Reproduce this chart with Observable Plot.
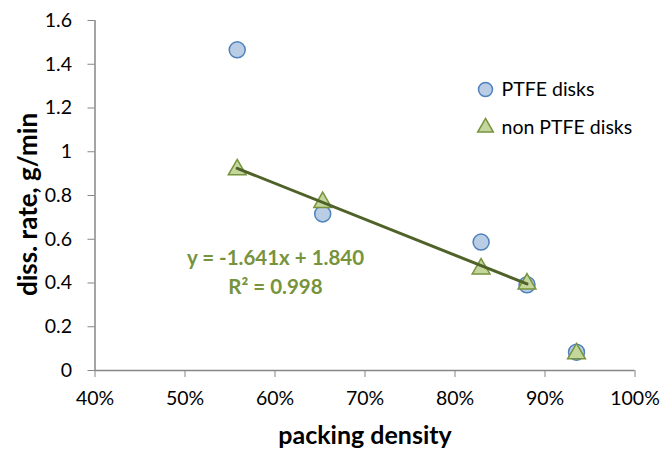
<!DOCTYPE html>
<html>
<head>
<meta charset="utf-8">
<script src="https://cdn.jsdelivr.net/npm/d3@7"></script>
<script src="https://cdn.jsdelivr.net/npm/@observablehq/plot@0.6"></script>
<style>
  html, body { margin: 0; padding: 0; background: #fff; }
  #chart svg { display: block; }
</style>
</head>
<body>
<div id="chart"></div>
<script>
// ---- data ----
const seriesNames = ["PTFE disks", "non PTFE disks"];
const ptfeX = [0.558, 0.653, 0.829, 0.880, 0.935];
const ptfeY = [1.466, 0.716, 0.587, 0.392, 0.084];
const nonPtfeX = [0.558, 0.653, 0.829, 0.880, 0.935];
const nonPtfeY = [0.918, 0.769, 0.465, 0.396, 0.077];
const trendCount = [4]; // trendline fitted over the first 4 non-PTFE points
const trendSlope = [-1.641];
const trendIntercept = [1.840];
const trendR2 = [0.998];
const yTicks = [0, 0.2, 0.4, 0.6, 0.8, 1.0, 1.2, 1.4, 1.6];
const xTicks = [0.4, 0.5, 0.6, 0.7, 0.8, 0.9, 1.0];
const xLabel = "packing density";
const yLabel = "diss. rate, g/min";

// ---- build tables ----
const ptfe = ptfeX.map((x, i) => ({x, y: ptfeY[i]}));
const nonPtfe = nonPtfeX.map((x, i) => ({x, y: nonPtfeY[i]}));
const fitPts = nonPtfe.slice(0, trendCount[0]);
const fx = d3.extent(fitPts, d => d.x);
const trend = fx.map(x => ({x, y: trendSlope[0] * x + trendIntercept[0]}));
const eqText = `y = ${trendSlope[0].toFixed(3)}x + ${trendIntercept[0].toFixed(3)}\nR² = ${trendR2[0].toFixed(3)}`;

const axisColor = "#868686";
const blueFill = "#B9CDE5", blueStroke = "#4F81BD";
const greenFill = "#C3D69B", greenStroke = "#77933C";
const trendColor = "#4F6228";

const chart = Plot.plot({
  width: 662,
  height: 450,
  marginTop: 20,
  marginLeft: 94.5,
  marginRight: 27.5,
  marginBottom: 80,
  style: {fontFamily: "Lato, 'Open Sans', sans-serif", fontSize: "19px", color: "#000", background: "#fff"},
  x: {domain: [0.4, 1.0]},
  y: {domain: [0, 1.6]},
  marks: [
    Plot.axisY({ticks: yTicks, tickSize: 7, tickPadding: 16, stroke: axisColor, fill: "#000", fontSize: 19.5, label: null, tickFormat: d => d3.format("")(+d.toFixed(1))}),
    Plot.axisX({ticks: xTicks, tickSize: 7, tickPadding: 14, stroke: axisColor, fill: "#000", fontSize: 19.5, label: null, tickFormat: d3.format(".0%")}),
    Plot.ruleX([0.4], {stroke: axisColor, strokeWidth: 1.5}),
    Plot.ruleY([0], {stroke: axisColor, strokeWidth: 1.5}),
    Plot.text([yLabel], {frameAnchor: "left", rotate: -90, dx: -66, dy: 9, fontSize: 26, fontWeight: "bold", textAnchor: "middle", lineAnchor: "middle", fill: "#000"}),
    Plot.text([xLabel], {frameAnchor: "bottom", dy: 73, fontSize: 25, fontWeight: "bold", textAnchor: "middle", lineAnchor: "bottom", fill: "#000"}),
    Plot.dot(ptfe, {x: "x", y: "y", r: 8, fill: blueFill, stroke: blueStroke, strokeWidth: 1.5}),
    Plot.dot(nonPtfe, {x: "x", y: "y", r: 6.6, symbol: "triangle", fill: greenFill, stroke: greenStroke, strokeWidth: 1.5}),
    Plot.line(trend, {x: "x", y: "y", stroke: trendColor, strokeWidth: 3}),
    Plot.text([eqText], {frameAnchor: "top-left", dx: 180.5, dy: 250, fontSize: 20.5, fontWeight: "bold", fill: greenStroke, textAnchor: "middle", lineAnchor: "middle", lineHeight: 1.37}),
    // legend
    Plot.dot([seriesNames[0]], {frameAnchor: "top-left", dx: 390.5, dy: 69, r: 7, fill: blueFill, stroke: blueStroke, strokeWidth: 1.5}),
    Plot.text([seriesNames[0]], {frameAnchor: "top-left", dx: 406.5, dy: 69, fontSize: 19.5, textAnchor: "start", lineAnchor: "middle", fill: "#000"}),
    Plot.dot([seriesNames[1]], {frameAnchor: "top-left", dx: 390.5, dy: 107, r: 5.8, symbol: "triangle", fill: greenFill, stroke: greenStroke, strokeWidth: 1.5}),
    Plot.text([seriesNames[1]], {frameAnchor: "top-left", dx: 406.5, dy: 107, fontSize: 19.5, textAnchor: "start", lineAnchor: "middle", fill: "#000"})
  ]
});
document.getElementById("chart").appendChild(chart);
</script>
</body>
</html>
